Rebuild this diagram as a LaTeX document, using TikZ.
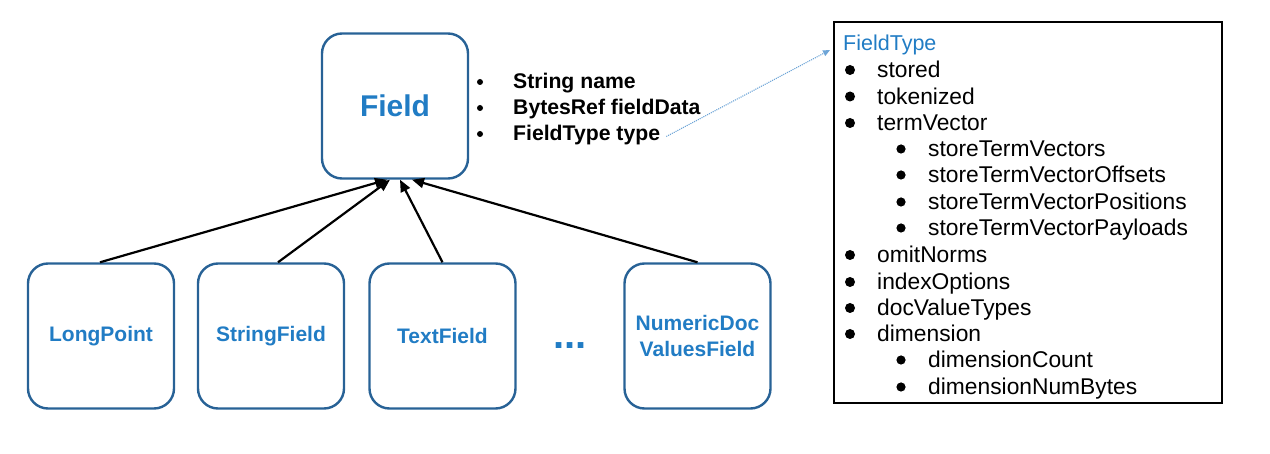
\documentclass[tikz,border=0pt]{standalone}
\usepackage{fontspec}
\setmainfont{Liberation Sans}
\usetikzlibrary{arrows.meta}
\definecolor{txtblue}{RGB}{33,124,196}
\definecolor{boxblue}{RGB}{40,98,150}
\definecolor{dotblue}{RGB}{110,165,215}
\begin{document}
\begin{tikzpicture}[x=1pt,y=-1pt,
  cls/.style={draw=boxblue, line width=2.4pt, rounded corners=20pt,
    minimum width=146pt, minimum height=145pt, inner sep=0pt, align=center,
    text=txtblue, font=\bfseries\fontsize{21}{26.5}\selectfont},
  attr/.style={anchor=base west, inner sep=0pt, font=\bfseries\fontsize{21.2}{24}\selectfont},
  item/.style={anchor=base west, inner sep=0pt, font=\fontsize{22.8}{26}\selectfont},
  inh/.style={line width=2.2pt, -{Triangle[length=12pt,width=10pt]}},
  bigbul/.style={fill=black},
]
\useasboundingbox (0,0) rectangle (1270,454);

% Field class
\node[cls, minimum height=145pt, font=\bfseries\fontsize{30}{34}\selectfont] (field) at (395,106) {Field};

% attributes
\node[attr] (a1) at (513,89) {String name};
\node[attr] (a2) at (513,115) {BytesRef fieldData};
\node[attr] (a3) at (513,141) {FieldType type};
\fill (480,82) circle (3pt);
\fill (480,108) circle (3pt);
\fill (480,134) circle (3pt);

% subclasses
\node[cls] (lp) at (101,336) {LongPoint};
\node[cls] (sf) at (271,336) {StringField};
\node[cls] (tf) at (442.5,336) {TextField};
\node[cls] (nd) at (697.5,336) {NumericDoc\\ValuesField};
\node[inner sep=0pt, text=txtblue, font=\bfseries\fontsize{40}{40}\selectfont] (dots) at (570,346) {...};

\draw[inh] ([xshift=-1pt]lp.north) -- ([xshift=-8pt]field.south);
\draw[inh] ([xshift=7pt]sf.north) -- ([xshift=-5pt]field.south);
\draw[inh] ([xshift=0pt]tf.north) -- ([xshift=5pt]field.south);
\draw[inh] ([xshift=0pt]nd.north) -- ([xshift=17pt]field.south);

% FieldType box
\node[draw=black, line width=2pt, minimum width=388pt, minimum height=381pt, inner sep=0pt] (ftbox) at (1028,213) {};
\node[anchor=base west, inner sep=0pt, text=txtblue, font=\fontsize{21.5}{26}\selectfont] (fttitle) at (843,51) {FieldType};

\node[item] (i1) at (877,78) {stored};
\node[item] (i2) at (877,104.5) {tokenized};
\node[item] (i3) at (877,131) {termVector};
\node[item] (i4) at (928,157) {storeTermVectors};
\node[item] (i5) at (928,183) {storeTermVectorOffsets};
\node[item] (i6) at (928,210) {storeTermVectorPositions};
\node[item] (i7) at (928,236) {storeTermVectorPayloads};
\node[item] (i8) at (877,263) {omitNorms};
\node[item] (i9) at (877,290) {indexOptions};
\node[item] (i10) at (877,316) {docValueTypes};
\node[item] (i11) at (877,342) {dimension};
\node[item] (i12) at (928,368) {dimensionCount};
\node[item] (i13) at (928,395) {dimensionNumBytes};

\foreach \y in {70,96.5,123,255,282,308,334} \fill[bigbul] (850,\y) circle (5pt);
\foreach \y in {149,175,202,228,360,387} \fill[bigbul] (901,\y) circle (4.6pt);

% reference arrow
\coordinate (ftin) at (830,50);
\draw[dotblue, densely dotted, line width=1.1pt, -{Triangle[length=7pt,width=6pt]}] ([xshift=6pt,yshift=-1pt]a3.east) -- (ftin);
\end{tikzpicture}
\end{document}
